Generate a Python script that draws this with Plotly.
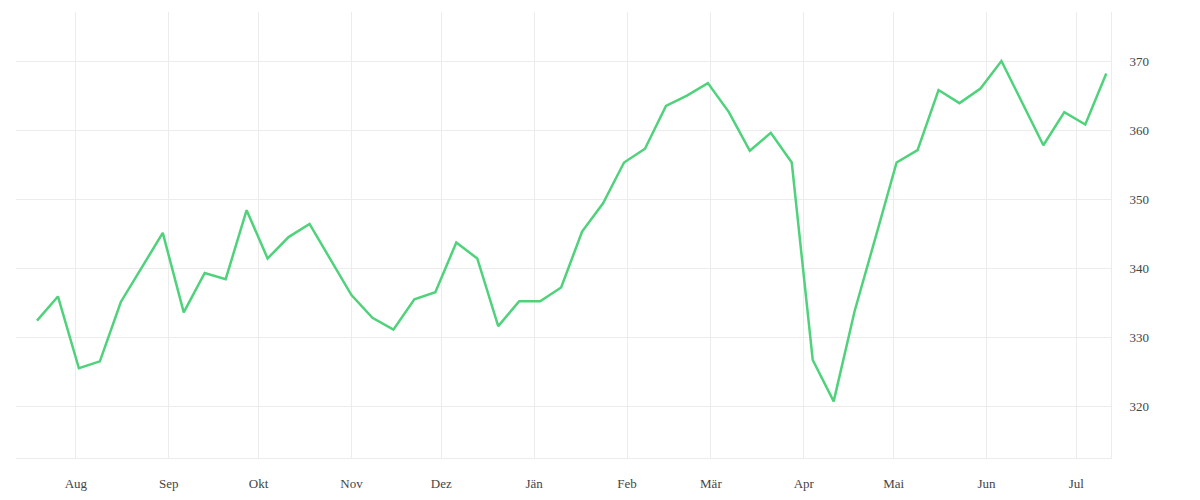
import pandas as pd
import plotly.graph_objects as go

# weekly values
start_date = "2022-07-19"
values = [
    332.4, 335.9, 325.5, 326.5, 335.1, 340.1, 345.1, 333.6, 339.3, 338.4,
    348.4, 341.4, 344.5, 346.4, 341.3, 336.1, 332.8, 331.1, 335.5, 336.5,
    343.7, 341.4, 331.6, 335.2, 335.2, 337.2, 345.3, 349.4, 355.3, 357.3,
    363.5, 365.0, 366.8, 362.6, 357.0, 359.6, 355.3, 326.7, 320.7, 333.8,
    344.5, 355.3, 357.1, 365.8, 363.9, 366.0, 370.0, 363.8, 357.8, 362.6,
    360.8, 368.2,
]
dates = pd.date_range(start_date, periods=len(values), freq="7D")

month_ticks = pd.date_range("2022-08-01", "2023-07-01", freq="MS")
month_labels = ["Aug", "Sep", "Okt", "Nov", "Dez", "Jän",
                "Feb", "Mär", "Apr", "Mai", "Jun", "Jul"]

y_ticks = [320, 330, 340, 350, 360, 370]

GRID = "#ececec"
FONT = dict(family="Liberation Serif, DejaVu Serif, serif", size=13, color="#444444")

fig = go.Figure(
    go.Scatter(
        x=dates,
        y=values,
        mode="lines",
        line=dict(color="#4fd27b", width=2.5),
        hoverinfo="x+y",
    )
)

fig.update_layout(
    width=1200,
    height=500,
    margin=dict(l=8, r=97, t=4, b=50),
    paper_bgcolor="white",
    plot_bgcolor="white",
    font=FONT,
    showlegend=False,
)

fig.update_xaxes(
    range=["2022-07-12", "2023-07-12 14:00"],
    tickvals=month_ticks,
    ticktext=month_labels,
    showgrid=True,
    gridcolor=GRID,
    showline=True,
    linecolor=GRID,
    linewidth=1,
    ticks="",
    ticklabelstandoff=13,
    zeroline=False,
    automargin=False,
)

fig.update_yaxes(
    side="right",
    range=[312.5, 377.1],
    tickvals=y_ticks,
    showgrid=True,
    gridcolor=GRID,
    showline=True,
    linecolor=GRID,
    linewidth=1,
    ticks="",
    ticklabelstandoff=15,
    zeroline=False,
    automargin=False,
)

fig.write_html("out.html")
